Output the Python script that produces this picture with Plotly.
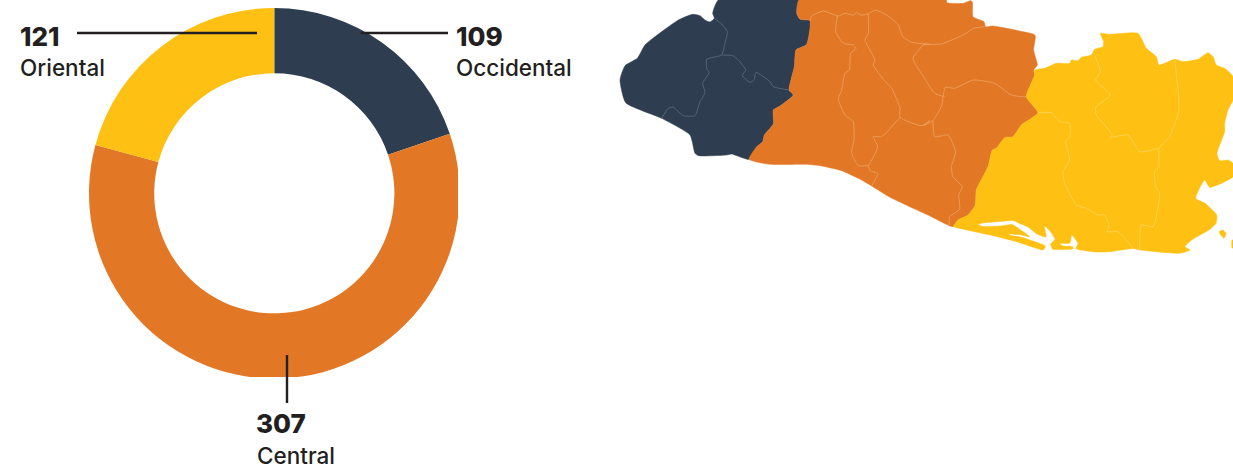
import plotly.graph_objects as go

W, H = 1233, 468
DARK, ORANGE, YELLOW = "#2e3e50", "#e27826", "#fec113"
INK = "#231f20"
FONT = "Inter"

# Donut data: the arcs in the picture are not exactly proportional to the printed
# counts, so slice sizes are read from the arcs and the counts are kept as labels.
regions = ["Occidental", "Central", "Oriental"]
arc_shares = [19.8, 59.4, 20.8]
counts = [109, 307, 121]
colors = [DARK, ORANGE, YELLOW]


def z1(points):
    return [(610 + x / 3, y / 3) for x, y in points]


def z2(points):
    return [(913 + x / 3, y / 3) for x, y in points]


# Map outlines in map units
west_boundary = [
    (567, 0), (560, 40), (570, 58), (600, 62), (590, 133), (558, 150), (553, 200), (537, 270), (550, 285),
    (510, 318), (490, 330), (490, 372), (463, 405), (458, 425), (440, 440), (417, 478)]
east_boundary = [
    (120, 680), (135, 660), (165, 645), (187, 615), (190, 570), (225, 500), (238, 450), (250, 445), (275, 413),
    (300, 410), (325, 375), (375, 338), (340, 290), (365, 225)]

occidental_outline = z1([
    (325, 0), (308, 40), (313, 55), (300, 66), (285, 60), (270, 47), (248, 43), (205, 60), (105, 135),
    (82, 175), (45, 197), (30, 240), (47, 308), (155, 355), (240, 405), (255, 460), (265, 467), (350, 465),
    (365, 462)] + west_boundary[::-1] + [(325, 0)])
central_outline = z1(west_boundary + [
    (480, 493), (590, 493), (635, 498), (695, 512), (745, 535), (785, 558), (840, 592), (960, 648)]) + z2(
    east_boundary + [
    (362, 210), (373, 195), (362, 150), (367, 107),
    (360, 102), (240, 78), (218, 80), (213, 65), (180, 50), (178, 5), (172, 2), (150, 10), (102, 8), (100, 0),
    (0, 0)]) + z1([(567, 0)])
oriental_outline = z2(east_boundary + [
    (365, 210), (395, 205), (430, 190), (470, 190),
    (475, 180), (495, 182), (505, 172), (535, 165), (545, 148), (570, 140), (572, 125), (562, 100), (590, 103),
    (675, 100), (700, 145), (730, 170), (738, 195), (785, 178), (810, 185), (855, 178), (885, 158), (900, 170),
    (910, 195), (935, 205), (960, 230), (960, 300), (945, 330), (935, 370), (935, 395), (912, 460), (920, 482),
    (945, 480), (960, 490), (960, 530), (890, 562), (875, 540), (848, 595)]) + [
    (1205, 203.3), (1216.7, 215), (1216, 223.3), (1210, 229.3), (1191.7, 240), (1185, 246.7), (1190, 250),
    (1180, 253.3), (1140, 250), (1133, 248.5), (1110, 251.7), (1096, 252), (1085, 250.7), (1080, 250), (1076, 248.5),
    (1078, 243.3), (1071.7, 235), (1070, 243), (1059.3, 243.5), (1063, 246), (1072.7, 246.7), (1073, 248.7),
    (1060, 249.5), (1052.7, 249.3), (1050.7, 244), (1055, 239.3), (1050, 231), (1044.5, 226), (1046, 237),
    (1037, 234), (1028, 227), (1021, 224), (1013, 220.5), (1000, 221.5), (983, 223), (978, 224.5), (983, 226.5),
    (1000, 226), (1012, 224.5), (1018, 228), (1025, 233), (1030, 237), (1021.7, 235), (1009.3, 234), (1009.3, 235),
    (1021.7, 237.3), (1030, 240), (1045, 245.7), (1045, 247.7), (1043, 250), (1033.3, 247.3), (1016.7, 241.7),
    (993.3, 235.7), (966.7, 230), (953, 226.7)]
island_outline = [(1219.3, 231.7), (1222.7, 230), (1226, 233.3), (1224, 238.3), (1220.7, 235), (1219.3, 231.7)]
edge_islet_outline = [(1232, 240), (1233, 240), (1233, 248), (1232, 248), (1232, 240)]

# Interior department borders
occidental_borders = [z1(b) for b in [
    [(313, 55), (335, 72), (352, 95), (345, 130), (335, 165), (290, 178), (290, 205), (297, 218), (278, 250),
     (285, 278), (270, 305), (255, 347), (220, 347), (190, 322), (175, 325), (155, 355)],
    [(335, 165), (368, 167), (385, 180), (407, 210), (397, 227), (420, 247), (432, 240), (438, 217), (480, 245),
     (490, 260), (537, 270)],
]]
central_borders = [
    z1([(600, 62), (605, 48), (640, 33), (685, 48), (705, 40), (730, 45), (740, 38), (752, 45), (775, 42), (795, 30),
        (830, 45), (865, 75), (878, 110), (905, 127), (960, 133)]) +
    z2([(30, 133), (85, 132), (160, 100), (180, 85), (218, 80)]),
    z1([(682, 48), (677, 95), (700, 130), (730, 135), (738, 145), (722, 160), (718, 210), (705, 220), (695, 270),
        (685, 297), (705, 345), (730, 365), (732, 385), (732, 420), (725, 460), (745, 497), (775, 495), (803, 440),
        (790, 410), (815, 410), (870, 352)]),
    z1([(775, 495), (780, 512), (803, 520), (785, 558)]),
    z1([(775, 42), (775, 100), (765, 120), (795, 180), (790, 195), (820, 238), (845, 265), (870, 325), (870, 352),
        (935, 377), (960, 362)]) +
    z2([(30, 377), (60, 362), (85, 320), (97, 262), (125, 265), (180, 240), (245, 250), (295, 285), (325, 290),
        (340, 290)]),
    z2([(32, 133), (0, 175), (35, 235), (65, 280), (95, 290)]),
    z2([(60, 362), (65, 410), (105, 405), (128, 455), (115, 500), (120, 530), (148, 560), (137, 585), (140, 628),
        (110, 650), (108, 675)]),
]
oriental_borders = [z2(b) for b in [
    [(375, 338), (415, 338), (440, 365), (470, 370), (470, 410), (458, 425), (470, 480), (450, 515), (455, 550),
     (490, 615), (520, 625), (555, 645), (575, 645), (588, 675), (583, 695), (615, 695), (660, 745)],
    [(545, 165), (562, 215), (548, 240), (592, 285), (548, 322), (550, 345), (598, 405), (592, 412), (645, 405),
     (680, 455), (738, 445)],
    [(785, 178), (797, 290), (797, 335), (770, 410), (738, 445), (738, 500), (725, 515), (728, 560), (740, 580),
     (720, 680), (685, 675), (680, 750)],
]]

# Leader lines
leaders = [
    [(77, 33), (257, 33)],
    [(360.7, 33), (448, 33)],
    [(287, 355), (287, 403)],
]
# Labels
number_labels = [(str(counts[2]), 18, 36.5), (str(counts[0]), 454, 36.5), (str(counts[1]), 254, 423.5)]
name_labels = [("Oriental", 18, 67.5), ("Occidental", 454, 67.5), ("Central", 255, 455.5)]

fig = go.Figure()
fig.add_trace(go.Pie(
    labels=regions, values=arc_shares, customdata=counts, sort=False, direction="clockwise", rotation=0, hole=0.648,
    marker=dict(colors=colors, line=dict(width=0)), textinfo="none", hoverinfo="label",
    domain=dict(x=[89 / W, 459.6 / W], y=[(H - 378.6) / H, (H - 8) / H]), showlegend=False))


def poly(points, color):
    fig.add_trace(go.Scatter(x=[p[0] for p in points], y=[p[1] for p in points], mode="lines", fill="toself",
                             fillcolor=color, line=dict(width=0.5, color=color, shape="spline", smoothing=0.5),
                             hoverinfo="skip", showlegend=False))


def line(points, color, width):
    fig.add_trace(go.Scatter(x=[p[0] for p in points], y=[p[1] for p in points], mode="lines",
                             line=dict(width=width, color=color, shape="spline", smoothing=0.5),
                             hoverinfo="skip", showlegend=False))


poly(occidental_outline, DARK)
poly(central_outline, ORANGE)
poly(oriental_outline, YELLOW)
poly(island_outline, YELLOW)
poly(edge_islet_outline, YELLOW)
for b in occidental_borders:
    line(b, "#5f6c78", 0.8)
for b in central_borders:
    line(b, "#eea262", 0.8)
for b in oriental_borders:
    line(b, "#fdd65c", 0.8)

# The reference crops the donut image flat on the right and at the bottom
shapes = [
    dict(type="rect", xref="x", yref="y", x0=458, x1=470, y0=150, y1=240, fillcolor="white", line_width=0, layer="above"),
    dict(type="rect", xref="x", yref="y", x0=230, x1=320, y0=377, y1=385, fillcolor="white", line_width=0, layer="above"),
]
for l in leaders:
    shapes.append(dict(type="line", xref="x", yref="y", x0=l[0][0], y0=l[0][1], x1=l[1][0], y1=l[1][1],
                       line=dict(color=INK, width=2.4), layer="above"))

annotations = []
for text, x, y in number_labels:
    annotations.append(dict(x=x, y=y, xref="x", yref="y", text=text, showarrow=False, xanchor="left", yanchor="middle",
                            font=dict(family=FONT, size=26, color=INK, weight=800)))
for text, x, y in name_labels:
    annotations.append(dict(x=x, y=y, xref="x", yref="y", text=text, showarrow=False, xanchor="left", yanchor="middle",
                            font=dict(family=FONT, size=22.5, color=INK, weight=500)))

fig.update_layout(
    width=W, height=H, margin=dict(l=0, r=0, t=0, b=0), paper_bgcolor="white", plot_bgcolor="rgba(0,0,0,0)",
    xaxis=dict(range=[0, W], visible=False, fixedrange=True),
    yaxis=dict(range=[H, 0], visible=False, fixedrange=True),
    shapes=shapes, annotations=annotations)
fig.write_html("out.html", config={"displayModeBar": False},
               post_script="document.body.style.margin='0';document.documentElement.style.overflow='hidden';")
